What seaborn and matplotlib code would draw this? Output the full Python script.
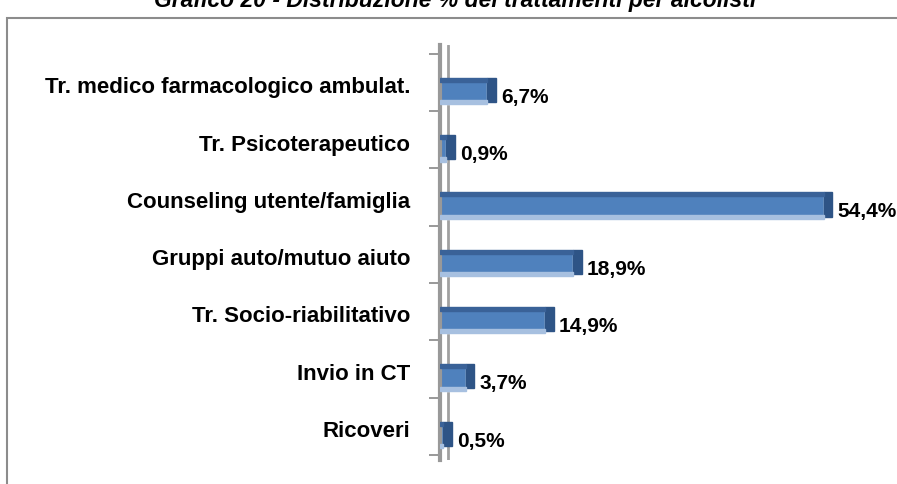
import matplotlib
matplotlib.use("Agg")
import matplotlib.pyplot as plt
import matplotlib.transforms as mtransforms
import seaborn as sns
import pandas as pd
from matplotlib.patches import Rectangle

sns.set_style("white")
plt.rcParams["font.family"] = ["Liberation Sans", "DejaVu Sans"]
plt.rcParams["text.color"] = "black"
plt.rcParams["ytick.labelcolor"] = "black"

trattamenti = ["Tr. medico farmacologico ambulat.", "Tr. Psicoterapeutico",
               "Counseling utente/famiglia", "Gruppi auto/mutuo aiuto",
               "Tr. Socio-riabilitativo", "Invio in CT", "Ricoveri"]
percentuali = [6.7, 0.9, 54.4, 18.9, 14.9, 3.7, 0.5]

df = pd.DataFrame({"trattamento": trattamenti, "perc": percentuali})

fig = plt.figure(figsize=(8.97, 4.84), dpi=100)
ax = fig.add_axes([0.49, 0.0496, 0.48, 0.857])

# parete grigia dietro le barre
ax.axvline(1.15, color="#A0A0A0", lw=2, zorder=0)

sns.barplot(data=df, x="perc", y="trattamento", color="#4F81BD", width=0.42,
            saturation=1, ax=ax, zorder=2)

# finto effetto 3D: lato destro scuro, bordo superiore scuro, striscia chiara sotto
for p in ax.patches[:len(percentuali)]:
    x, y, w, h = p.get_x(), p.get_y(), p.get_width(), p.get_height()
    ax.add_patch(Rectangle((x + w, y - 0.04), 1.25, h, color="#2E5486", zorder=3))
    ax.add_patch(Rectangle((x, y - 0.04), w, 0.07, color="#3A6298", zorder=3))
    ax.add_patch(Rectangle((x, y + h - 0.07), w, 0.07, color="#A7C0E0", zorder=3))

for i, v in enumerate(percentuali):
    ax.text(v + 2.0, i + 0.09, f"{v:.1f}%".replace(".", ","), va="center",
            ha="left", fontsize=15, fontweight="bold", color="black")

ax.set_xlim(0, 61)
ax.set_ylim(6.42, -0.82)
ax.set_xlabel("")
ax.set_ylabel("")
ax.set_xticks([])
ax.tick_params(axis="y", which="major", length=0, pad=21, labelsize=16, labelcolor="black")
shift = mtransforms.ScaledTranslation(0, 5 / 72, fig.dpi_scale_trans)
for lab in ax.get_yticklabels():
    lab.set_fontweight("bold")
    lab.set_transform(lab.get_transform() + shift)
ax.set_yticks([k + 0.33 for k in range(-1, 7)], minor=True)
ax.tick_params(axis="y", which="minor", left=True, length=8, width=1.2,
               color="#888888", direction="out")

for s in ["top", "right", "bottom"]:
    ax.spines[s].set_visible(False)
ax.spines["left"].set_color("#999999")
ax.spines["left"].set_linewidth(3)

fig.patches.append(Rectangle((0.008, -0.05), 1.2, 1.013, transform=fig.transFigure,
                             fill=False, edgecolor="#8C8C8C", linewidth=1.5))

fig.text(0.507, 0.998, "Grafico 20 - Distribuzione % dei trattamenti per alcolisti",
         ha="center", va="center", fontsize=16.5, fontweight="bold", style="italic")

fig.savefig("out.png", dpi=100)
